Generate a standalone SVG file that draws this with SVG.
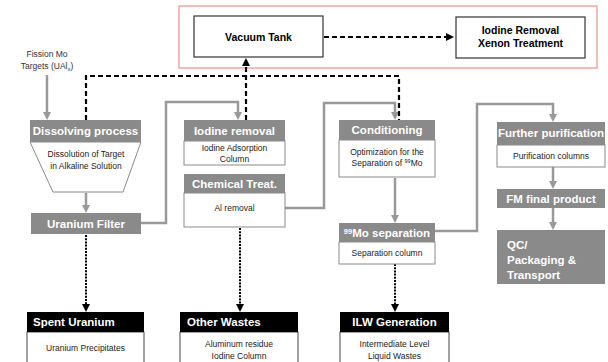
<svg xmlns="http://www.w3.org/2000/svg" width="608" height="362" viewBox="0 0 608 362">
<style>
text{font-family:"Liberation Sans",Arial,sans-serif}
.hd{fill:#8a8a8a}
.hdt{fill:#fff;font-weight:bold;font-size:11.5px;text-anchor:middle}
.bd{fill:#fff;stroke:#8a8a8a;stroke-width:1}
.bt{fill:#222;font-size:8.5px;text-anchor:middle}
.kb{fill:#000}
.kbt{fill:#fff;font-weight:bold;font-size:11.5px}
.kbd{fill:#fff;stroke:#444;stroke-width:1}
.tb{fill:#fff;stroke:#333;stroke-width:1.2}
.tt{fill:#000;font-weight:bold;font-size:10.5px;text-anchor:middle}
.g{fill:none;stroke:#999;stroke-width:2.5}
.dash{fill:none;stroke:#000;stroke-width:2.2;stroke-dasharray:5,3}
.dot{fill:none;stroke:#000;stroke-width:2;stroke-dasharray:2,1.2}
</style>
<defs>
<marker id="ga" markerWidth="8" markerHeight="8" refX="4" refY="4" orient="auto" markerUnits="userSpaceOnUse"><path d="M0,0 L8,4 L0,8 z" fill="#999"/></marker>
<marker id="ka" markerWidth="8" markerHeight="8" refX="6" refY="4" orient="auto" markerUnits="userSpaceOnUse"><path d="M0,0 L8,4 L0,8 z" fill="#000"/></marker>
</defs>
<rect width="608" height="362" fill="#fff"/>
<rect x="179" y="6" width="418" height="62" fill="#fff" stroke="#f0908a" stroke-width="1.2"/>

<g id="connectors">
<path class="g" d="M47,75 V116" marker-end="url(#ga)"/>
<path class="g" d="M86,193 V209" marker-end="url(#ga)"/>
<path class="g" d="M141,223 H166 V102 H238 V116" marker-end="url(#ga)"/>
<path class="g" d="M285,208 H324 V103 H395 V116" marker-end="url(#ga)"/>
<path class="g" d="M395,178 V219" marker-end="url(#ga)"/>
<path class="g" d="M435,231 H477 V104 H553 V118" marker-end="url(#ga)"/>
<path class="g" d="M553,167 V185" marker-end="url(#ga)"/>
<path class="g" d="M553,208 V226" marker-end="url(#ga)"/>
<path class="dash" d="M86,120 V76 H399 V120"/>
<path class="dash" d="M246,120 V60" marker-end="url(#ka)"/>
<path class="dash" d="M324,37 H452" marker-end="url(#ka)"/>
<path class="dot" d="M86,235 V310" marker-end="url(#ka)"/>
<path class="dot" d="M240,228 V310" marker-end="url(#ka)"/>
<path class="dot" d="M395,264 V310" marker-end="url(#ka)"/>
</g>

<text x="47" y="57" font-size="8.5" fill="#333" text-anchor="middle">Fission Mo</text>
<text x="47" y="69" font-size="8.5" fill="#333" text-anchor="middle">Targets (UAl<tspan font-size="6" dy="2">x</tspan><tspan dy="-2">)</tspan></text>

<g id="vacuum"><rect class="tb" x="194" y="16" width="129" height="41"/><text class="tt" x="258.5" y="40.5">Vacuum Tank</text></g>
<g id="iodinexenon"><rect class="tb" x="456" y="17" width="129" height="41"/><text class="tt" x="520.5" y="34">Iodine Removal</text><text class="tt" x="520.5" y="47">Xenon Treatment</text></g>

<g id="dissolving">
<path class="bd" d="M30,142 H141 L123,192 H53 Z"/>
<rect class="hd" x="30" y="120" width="111" height="22"/>
<text class="hdt" x="85.5" y="135">Dissolving process</text>
<text class="bt" x="86" y="157">Dissolution of Target</text>
<text class="bt" x="86" y="169">in Alkaline Solution</text>
</g>
<g id="ufilter"><rect class="hd" x="31" y="213" width="110" height="21"/><text class="hdt" x="86" y="228">Uranium Filter</text></g>

<g id="iodine">
<rect class="bd" x="184" y="141" width="101" height="24"/>
<rect class="hd" x="184" y="120" width="101" height="21"/>
<text class="hdt" x="234.5" y="135">Iodine removal</text>
<text class="bt" x="234.5" y="151">Iodine Adsorption</text>
<text class="bt" x="234.5" y="162">Column</text>
</g>
<g id="chem">
<rect class="bd" x="184" y="193" width="101" height="34"/>
<rect class="hd" x="184" y="174" width="101" height="19"/>
<text class="hdt" x="234.5" y="188">Chemical Treat.</text>
<text class="bt" x="234.5" y="211">Al removal</text>
</g>
<g id="cond">
<rect class="bd" x="339" y="140" width="96" height="37"/>
<rect class="hd" x="339" y="120" width="96" height="20"/>
<text class="hdt" x="387" y="134">Conditioning</text>
<text class="bt" x="387" y="155">Optimization for the</text>
<text class="bt" x="387" y="166">Separation of <tspan font-size="5.5" dy="-3">99</tspan><tspan dy="3">Mo</tspan></text>
</g>
<g id="mosep">
<rect class="bd" x="339" y="242" width="96" height="22"/>
<rect class="hd" x="339" y="223" width="96" height="19"/>
<text class="hdt" x="387" y="237"><tspan font-size="7.5" dy="-3">99</tspan><tspan dy="3">Mo separation</tspan></text>
<text class="bt" x="387" y="256">Separation column</text>
</g>
<g id="further">
<rect class="bd" x="497" y="145" width="108" height="22"/>
<rect class="hd" x="497" y="122" width="108" height="23"/>
<text class="hdt" x="551" y="137">Further purification</text>
<text class="bt" x="551" y="159">Purification columns</text>
</g>
<g id="fm"><rect class="hd" x="497" y="189" width="108" height="19"/><text class="hdt" x="551" y="203">FM final product</text></g>
<g id="qc">
<rect class="hd" x="497" y="230" width="108" height="54"/>
<text class="hdt" style="text-anchor:start" x="507" y="249">QC/</text>
<text class="hdt" style="text-anchor:start" x="507" y="264">Packaging &amp;</text>
<text class="hdt" style="text-anchor:start" x="507" y="279">Transport</text>
</g>

<g id="spent">
<rect class="kbd" x="27" y="332" width="117" height="34"/>
<rect class="kb" x="27" y="312" width="117" height="20"/>
<text class="kbt" x="33" y="326">Spent Uranium</text>
<text class="bt" x="85.5" y="351">Uranium Precipitates</text>
</g>
<g id="other">
<rect class="kbd" x="180" y="332" width="118" height="34"/>
<rect class="kb" x="180" y="312" width="118" height="20"/>
<text class="kbt" x="187" y="326">Other Wastes</text>
<text class="bt" x="239" y="347">Aluminum residue</text>
<text class="bt" x="239" y="359">Iodine Column</text>
</g>
<g id="ilw">
<rect class="kbd" x="340" y="332" width="109" height="34"/>
<rect class="kb" x="340" y="312" width="109" height="20"/>
<text class="kbt" x="394.5" y="326" text-anchor="middle">ILW Generation</text>
<text class="bt" x="394.5" y="347">Intermediate Level</text>
<text class="bt" x="394.5" y="359">Liquid Wastes</text>
</g>
</svg>
